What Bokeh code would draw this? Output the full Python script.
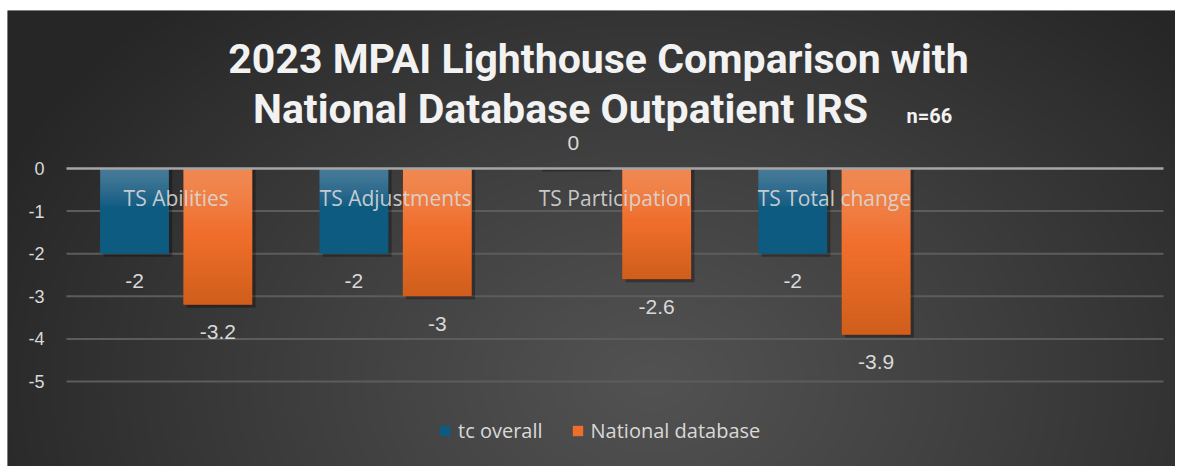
import numpy as np
from bokeh.plotting import figure
from bokeh.models import Range1d, Legend, LegendItem
from bokeh.core.properties import value
from bokeh.embed import file_html
from bokeh.resources import INLINE

# ---- data ----
categories = ["TS Abilities", "TS Adjustments", "TS Participation", "TS Total change", ""]
tc_overall = [-2, -2, 0, -2, None]
national_db = [-3.2, -3.0, -2.6, -3.9, None]
y_ticks = [0, -1, -2, -3, -4, -5]
series_names = ["tc overall", "National database"]
title_line1 = "2023 MPAI Lighthouse Comparison with"
title_line2 = "National Database Outpatient IRS"
title_note = "n=66"

W, H = 1175, 466
BL, BT = 7, 10          # white border left / top
FW, FH = W - BL, H - BT  # frame size
n_slots = len(categories)

# page-pixel -> data mapping helpers (layout only)
X0, XS = 66.0, 219.4    # page x of slot 0, px per slot
Y0, YS = 168.0, 42.6    # page y of value 0, px per unit
def dx(px):
    return (px - X0) / XS
def dy(py):
    return (Y0 - py) / YS

p = figure(width=W, height=H, output_backend="svg", toolbar_location=None,
           x_axis_type=None, y_axis_type=None,
           min_border_left=BL, min_border_top=BT, min_border_right=0, min_border_bottom=0,
           x_range=Range1d(dx(BL), dx(W)), y_range=Range1d(dy(H), dy(BT)))
p.outline_line_color = None
p.grid.visible = False
p.background_fill_color = "#3a3a3a"
p.border_fill_color = "white"

# ---- radial background gradient ----
yy, xx = np.mgrid[0:FH, 0:FW]
px = xx + BL
py = (FH - 1 - yy) + BT  # image row 0 is bottom
cx, cy, rx, ry = 650.0, 380.0, 720.0, 520.0
d = np.sqrt(((px - cx) / rx) ** 2 + ((py - cy) / ry) ** 2)
t = np.clip(d, 0, 1) ** 1.1
c_in = np.array([0x52, 0x52, 0x52], float)
c_out = np.array([0x26, 0x26, 0x26], float)
rgb = c_in[None, None, :] * (1 - t[..., None]) + c_out[None, None, :] * t[..., None]
img = np.empty((FH, FW), dtype=np.uint32)
view = img.view(dtype=np.uint8).reshape((FH, FW, 4))
view[..., 0] = rgb[..., 0].astype(np.uint8)
view[..., 1] = rgb[..., 1].astype(np.uint8)
view[..., 2] = rgb[..., 2].astype(np.uint8)
view[..., 3] = 255
xr, yr = p.x_range, p.y_range
p.image_rgba(image=[img], x=xr.start, y=yr.start, dw=xr.end - xr.start, dh=yr.end - yr.start)

# ---- gridlines ----
grid_y = [v for v in y_ticks if v != 0]
p.segment(x0=[0] * len(grid_y), x1=[n_slots] * len(grid_y), y0=grid_y, y1=grid_y,
          line_color="#5c5c5c", line_width=2)

# ---- bars ----
offset = 0.19
bw = 0.314
idx = [i for i, v in enumerate(tc_overall) if v is not None]
x_tc = [i + 0.5 - offset for i in idx]
x_nd = [i + 0.5 + offset for i in idx]
v_tc = [tc_overall[i] for i in idx]
v_nd = [national_db[i] for i in idx]

# shadows
p.vbar(x=[x + 0.015 for x in x_tc], top=0, bottom=[v - 0.07 for v in v_tc], width=bw,
       fill_color="black", fill_alpha=0.3, line_color=None)
p.vbar(x=[x + 0.015 for x in x_nd], top=0, bottom=[v - 0.07 for v in v_nd], width=bw,
       fill_color="black", fill_alpha=0.3, line_color=None)

r_tc = p.vbar(x=x_tc, top=0, bottom=v_tc, width=bw, fill_color="#0e5b81", line_color=None)
r_nd = p.vbar(x=x_nd, top=0, bottom=v_nd, width=bw, fill_color="#f06e2c", line_color=None)

# gradient overlays (highlight near the top, darkening near the bottom of orange)
steps = 16
hx, hb = [], []
for k in range(1, steps + 1):
    for x, v in zip(x_tc, v_tc):
        hx.append(x); hb.append(v * k / steps * 0.45)
p.vbar(x=hx, top=0, bottom=hb, width=bw, fill_color="#8aa8c0", fill_alpha=0.045, line_color=None)
hx, hb = [], []
for k in range(1, steps + 1):
    for x, v in zip(x_nd, v_nd):
        hx.append(x); hb.append(v * k / steps * 0.45)
p.vbar(x=hx, top=0, bottom=hb, width=bw, fill_color="#f3b090", fill_alpha=0.03, line_color=None)
dxs, dt = [], []
for k in range(steps):
    for x, v in zip(x_nd, v_nd):
        dxs.append(x); dt.append(v * (0.5 + 0.5 * k / steps))
p.vbar(x=dxs, top=dt, bottom=[v for k in range(steps) for v in v_nd], width=bw,
       fill_color="#b84000", fill_alpha=0.025, line_color=None)

# zero axis line
p.segment(x0=[0], x1=[n_slots], y0=[0], y1=[0], line_color="#a6a6a6", line_width=2.5)

# ---- data labels ----
def lab_y(v):
    return v - 0.64 if v < 0 else v + 0.59

def fmt(v):
    return "%g" % v

p.text(x=x_tc, y=[lab_y(v) for v in v_tc], text=[fmt(v) for v in v_tc],
       text_align="center", text_baseline="middle", text_color="#d9d9d9",
       text_font=value("Liberation Sans"), text_font_size="21px")
p.text(x=x_nd, y=[lab_y(v) for v in v_nd], text=[fmt(v) for v in v_nd],
       text_align="center", text_baseline="middle", text_color="#d9d9d9",
       text_font=value("Liberation Sans"), text_font_size="21px")

# ---- category labels ----
cat_idx = [i for i, c in enumerate(categories) if c]
p.text(x=[i + 0.5 for i in cat_idx], y=-0.70, text=[categories[i] for i in cat_idx],
       text_align="center", text_baseline="middle", text_color="#dadada", text_alpha=0.9,
       text_font=value("Open Sans"), text_font_size="21px")

# ---- y tick labels ----
p.text(x=dx(44), y=y_ticks, text=[str(v) for v in y_ticks],
       text_align="right", text_baseline="middle", text_color="#d9d9d9",
       text_font=value("Liberation Sans"), text_font_size="18px")

# ---- title ----
p.text(x=[dx(598)], y=[dy(58)], text=[title_line1], text_align="center",
       text_baseline="middle", text_color="#f2f2f2", text_font=value("Roboto"),
       text_font_style="bold", text_font_size="41px")
p.text(x=[dx(560)], y=[dy(108)], text=[title_line2], text_align="center",
       text_baseline="middle", text_color="#f2f2f2", text_font=value("Roboto"),
       text_font_style="bold", text_font_size="41px")
p.text(x=[dx(906)], y=[dy(115)], text=[title_note], text_align="left",
       text_baseline="middle", text_color="#f2f2f2", text_font=value("Roboto"),
       text_font_style="bold", text_font_size="20px")

# ---- legend ----
legend = Legend(items=[LegendItem(label=series_names[0], renderers=[r_tc]),
                       LegendItem(label=series_names[1], renderers=[r_nd])],
                orientation="horizontal", location=(431, 22),
                background_fill_alpha=0, border_line_color=None,
                padding=0, margin=0, spacing=28, label_standoff=7,
                glyph_width=13, glyph_height=13,
                label_text_color="#d9d9d9", label_text_font="Open Sans",
                label_text_font_size="20px")
p.add_layout(legend, "center")

open("out.html", "w").write(file_html(p, INLINE))
